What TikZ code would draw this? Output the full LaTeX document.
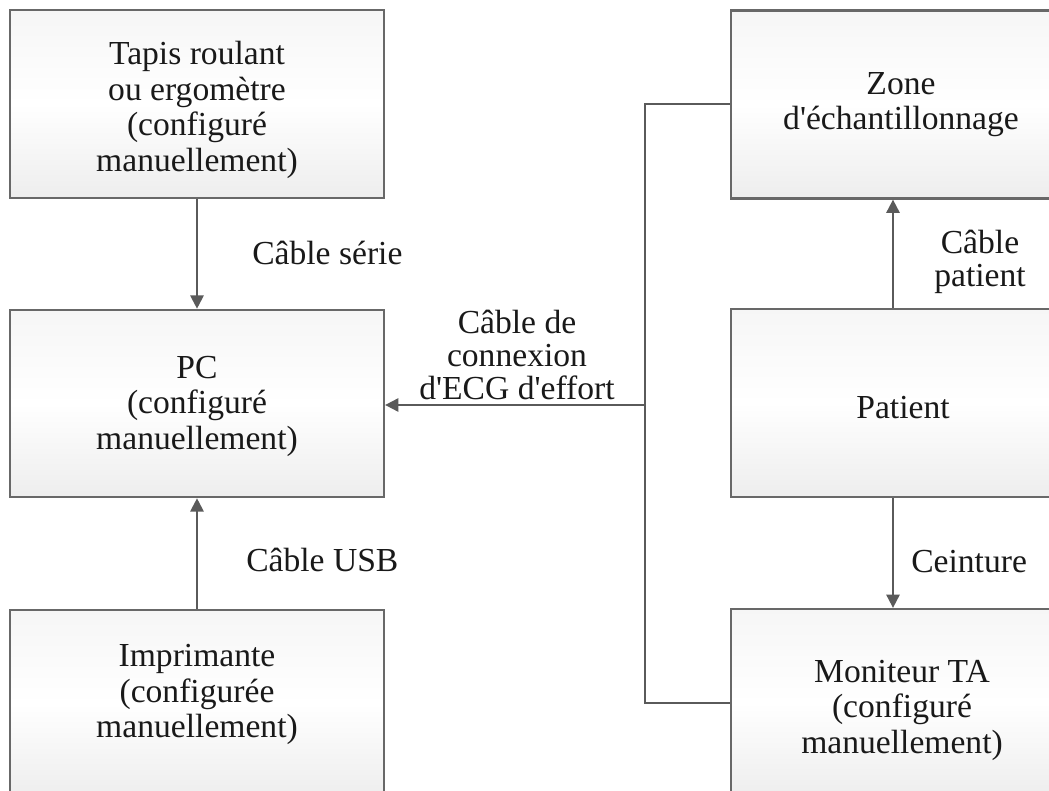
\documentclass[tikz,border=0pt]{standalone}
\usepackage{fontspec}
\setmainfont{Liberation Serif}
\usetikzlibrary{arrows.meta,calc}
\definecolor{boxline}{HTML}{686868}
\definecolor{conline}{HTML}{5A5A5A}
\newcommand{\apos}{\textquotesingle}
\begin{document}
\begin{tikzpicture}[x=0.75pt,y=-0.75pt,
  box/.style={draw=boxline,line width=1.7pt,rectangle,inner sep=0pt,
    top color=gray!7,bottom color=gray!14,middle color=white},
  lbox/.style={box,minimum width=280.5pt,minimum height=140.5pt},
  rbox/.style={box,minimum width=255pt,minimum height=141pt},
  txt/.style={align=center,font=\fontsize{25.2}{26.6}\selectfont,text=black!90,inner sep=0pt},
  con/.style={draw=conline,line width=1.5pt},
  arr/.style={con,-{Triangle[length=10pt,width=10pt]}},
  lab/.style={align=center,font=\fontsize{25.2}{25}\selectfont,text=black!90,inner sep=0pt}]
\useasboundingbox (0,0) rectangle (1049,791);
\clip (0,0) rectangle (1049,791);
\fill[white] (0,0) rectangle (1049,791);
% boxes
\node[lbox] (tapis) at (197,104) {};
\node[lbox] (pc) at (197,403.5) {};
\node[lbox] (imp) at (197,703.5) {};
\node[rbox] (zone) at (901,104.5) {};
\node[rbox] (patient) at (901,403) {};
\node[rbox] (moni) at (901,703) {};
% box texts
\node[txt] (tapis-t) at ($(tapis)+(0,6)$) {Tapis roulant\\ou ergomètre\\(configuré\\manuellement)};
\node[txt] (pc-t) at ($(pc)+(0,2.5)$) {PC\\(configuré\\manuellement)};
\node[txt] (imp-t) at ($(imp)+(0,-9)$) {Imprimante\\(configurée\\manuellement)};
\node[txt] (zone-t) at (zone) {Zone\\d\apos échantillonnage};
\node[txt] (patient-t) at ($(patient)+(2,5)$) {Patient};
\node[txt] (moni-t) at ($(moni)+(1,7)$) {Moniteur TA\\(configuré\\manuellement)};
% connectors
\draw[arr] (tapis.south) -- (pc.north);
\draw[arr] (imp.north) -- (pc.south);
\draw[arr] ($(patient.north)+(-8,0)$) -- ($(zone.south)+(-8,0)$);
\draw[arr] ($(patient.south)+(-8,0)$) -- ($(moni.north)+(-8,0)$);
\coordinate (bus) at (645,405);
\draw[con] (zone.west) -| (bus) |- (moni.west);
\draw[arr] (bus) -- (bus -| pc.east);
% labels
\node[lab,anchor=west] (ls) at (252,253) {Câble série};
\node[lab,anchor=west] (lu) at (246,560) {Câble USB};
\node[lab] (le) at (517,355) {Câble de\\connexion\\d\apos ECG d\apos effort};
\node[lab] (lp) at (980,262) {Câble\\patient};
\node[lab,anchor=west] (lc) at (911,562) {Ceinture};
\end{tikzpicture}
\end{document}
